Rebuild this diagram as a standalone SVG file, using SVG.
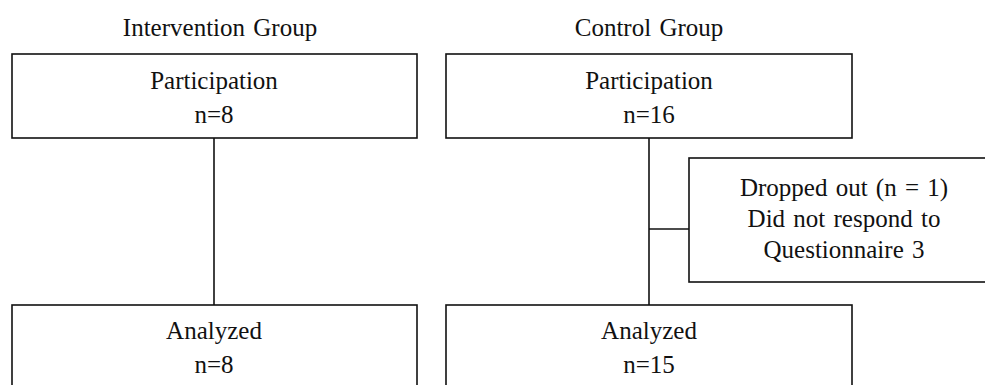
<svg xmlns="http://www.w3.org/2000/svg" width="985" height="385" viewBox="0 0 985 385">
<style>
text{font-family:"Liberation Serif","Times New Roman",serif;font-size:25px;word-spacing:2px;fill:#111;text-anchor:middle}
.box{fill:#fff;stroke:#111;stroke-width:1.6}
.conn{stroke:#111;stroke-width:1.6;fill:none}
</style>
<rect width="985" height="385" fill="#fff"/>
<g id="headers">
<text x="220" y="36">Intervention Group</text>
<text x="649" y="36">Control Group</text>
</g>
<g id="connectors">
<line class="conn" x1="214" y1="138" x2="214" y2="305"/>
<line class="conn" x1="649" y1="138" x2="649" y2="305"/>
<line class="conn" x1="649" y1="229" x2="689" y2="229"/>
</g>
<g id="int-participation">
<rect class="box" x="12" y="54" width="405" height="84"/>
<text x="214" y="89">Participation</text>
<text x="214" y="123">n=8</text>
</g>
<g id="ctl-participation">
<rect class="box" x="446" y="54" width="406" height="84"/>
<text x="649" y="89">Participation</text>
<text x="649" y="123">n=16</text>
</g>
<g id="dropped">
<rect class="box" x="689" y="158" width="310" height="124"/>
<text x="844" y="196">Dropped out (n = 1)</text>
<text x="844" y="227">Did not respond to</text>
<text x="844" y="258">Questionnaire 3</text>
</g>
<g id="int-analyzed">
<rect class="box" x="12" y="305" width="405" height="100"/>
<text x="214" y="339">Analyzed</text>
<text x="214" y="373">n=8</text>
</g>
<g id="ctl-analyzed">
<rect class="box" x="446" y="305" width="406" height="100"/>
<text x="649" y="339">Analyzed</text>
<text x="649" y="373">n=15</text>
</g>
</svg>
